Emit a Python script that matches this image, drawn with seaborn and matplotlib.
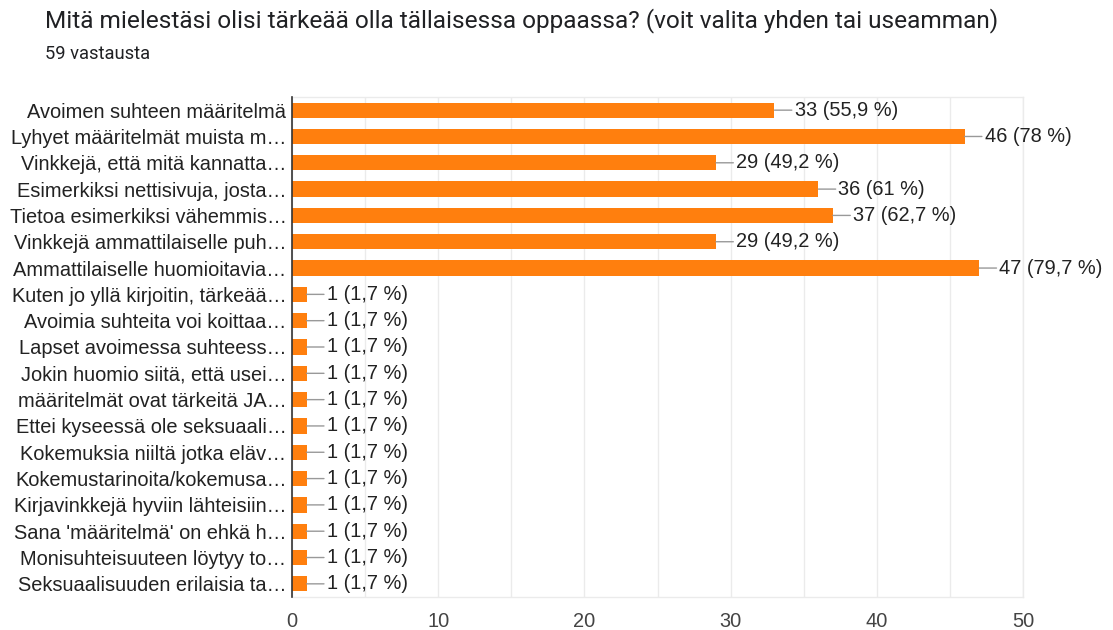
import matplotlib
matplotlib.use("Agg")
import matplotlib.pyplot as plt
import seaborn as sns
import pandas as pd

title = "Mitä mielestäsi olisi tärkeää olla tällaisessa oppaassa? (voit valita yhden tai useamman)"
subtitle = "59 vastausta"

categories = [
    "Avoimen suhteen määritelmä",
    "Lyhyet määritelmät muista m…",
    "Vinkkejä, että mitä kannatta…",
    "Esimerkiksi nettisivuja, josta…",
    "Tietoa esimerkiksi vähemmis…",
    "Vinkkejä ammattilaiselle puh…",
    "Ammattilaiselle huomioitavia…",
    "Kuten jo yllä kirjoitin, tärkeää…",
    "Avoimia suhteita voi koittaa…",
    "Lapset avoimessa suhteess…",
    "Jokin huomio siitä, että usei…",
    "määritelmät ovat tärkeitä JA…",
    "Ettei kyseessä ole seksuaali…",
    "Kokemuksia niiltä jotka eläv…",
    "Kokemustarinoita/kokemusa…",
    "Kirjavinkkejä hyviin lähteisiin…",
    "Sana 'määritelmä' on ehkä h…",
    "Monisuhteisuuteen löytyy to…",
    "Seksuaalisuuden erilaisia ta…",
]
counts = [33, 46, 29, 36, 37, 29, 47] + [1] * 12
percents = ["55,9", "78", "49,2", "61", "62,7", "49,2", "79,7"] + ["1,7"] * 12
x_ticks = [0, 10, 20, 30, 40, 50]

df = pd.DataFrame({"label": categories, "count": counts})

W, H = 1113, 630
fig = plt.figure(figsize=(W / 100, H / 100), dpi=100)
ax = fig.add_axes([292 / W, 1 - 597 / H, (1023 - 292) / W, (597 - 97) / H])

bar_color = "#ff7f0e"
sns.barplot(data=df, x="count", y="label", orient="h", color=bar_color,
            width=0.58, saturation=1, ax=ax, zorder=3)

ax.set_xlim(0, 50)
ax.set_ylim(len(categories) - 0.5, -0.5)
ax.set_xticks(x_ticks)
ax.set_xticks([5, 15, 25, 35, 45], minor=True)
ax.grid(True, axis="x", which="both", color="#ebebeb", linewidth=1, zorder=0)
ax.grid(False, axis="y")
ax.set_xlabel("")
ax.set_ylabel("")
ax.set_facecolor("white")

for s in ["top", "right", "bottom"]:
    ax.spines[s].set_color("#ebebeb")
    ax.spines[s].set_linewidth(1)
ax.spines["left"].set_color("#333333")
ax.spines["left"].set_linewidth(1.2)
ax.spines["left"].set_zorder(4)

fs = 14.4
ax.tick_params(axis="y", length=0, pad=4, labelsize=fs, labelcolor="#222222")
ax.tick_params(axis="x", which="both", length=0, pad=11, labelsize=fs, labelcolor="#444444")
for lbl in ax.get_yticklabels() + ax.get_xticklabels():
    lbl.set_fontfamily("Liberation Sans")

for i, (c, p) in enumerate(zip(counts, percents)):
    ax.annotate(f"{c} ({p} %)", xy=(c, i), xytext=(14.5, 0), textcoords="offset points",
                ha="left", va="center", fontsize=fs, color="#222222",
                family="Liberation Sans",
                arrowprops=dict(arrowstyle="-", color="#999999", lw=1,
                                shrinkA=0, shrinkB=0),
                annotation_clip=False, zorder=5)

fig.text(45 / W, 1 - 21 / H, title, ha="left", va="center", fontsize=17.6,
         color="#202124", family="Roboto")
fig.text(45 / W, 1 - 54 / H, subtitle, ha="left", va="center", fontsize=13.2,
         color="#202124", family="Roboto")

fig.savefig("out.png", dpi=100, facecolor="white")
